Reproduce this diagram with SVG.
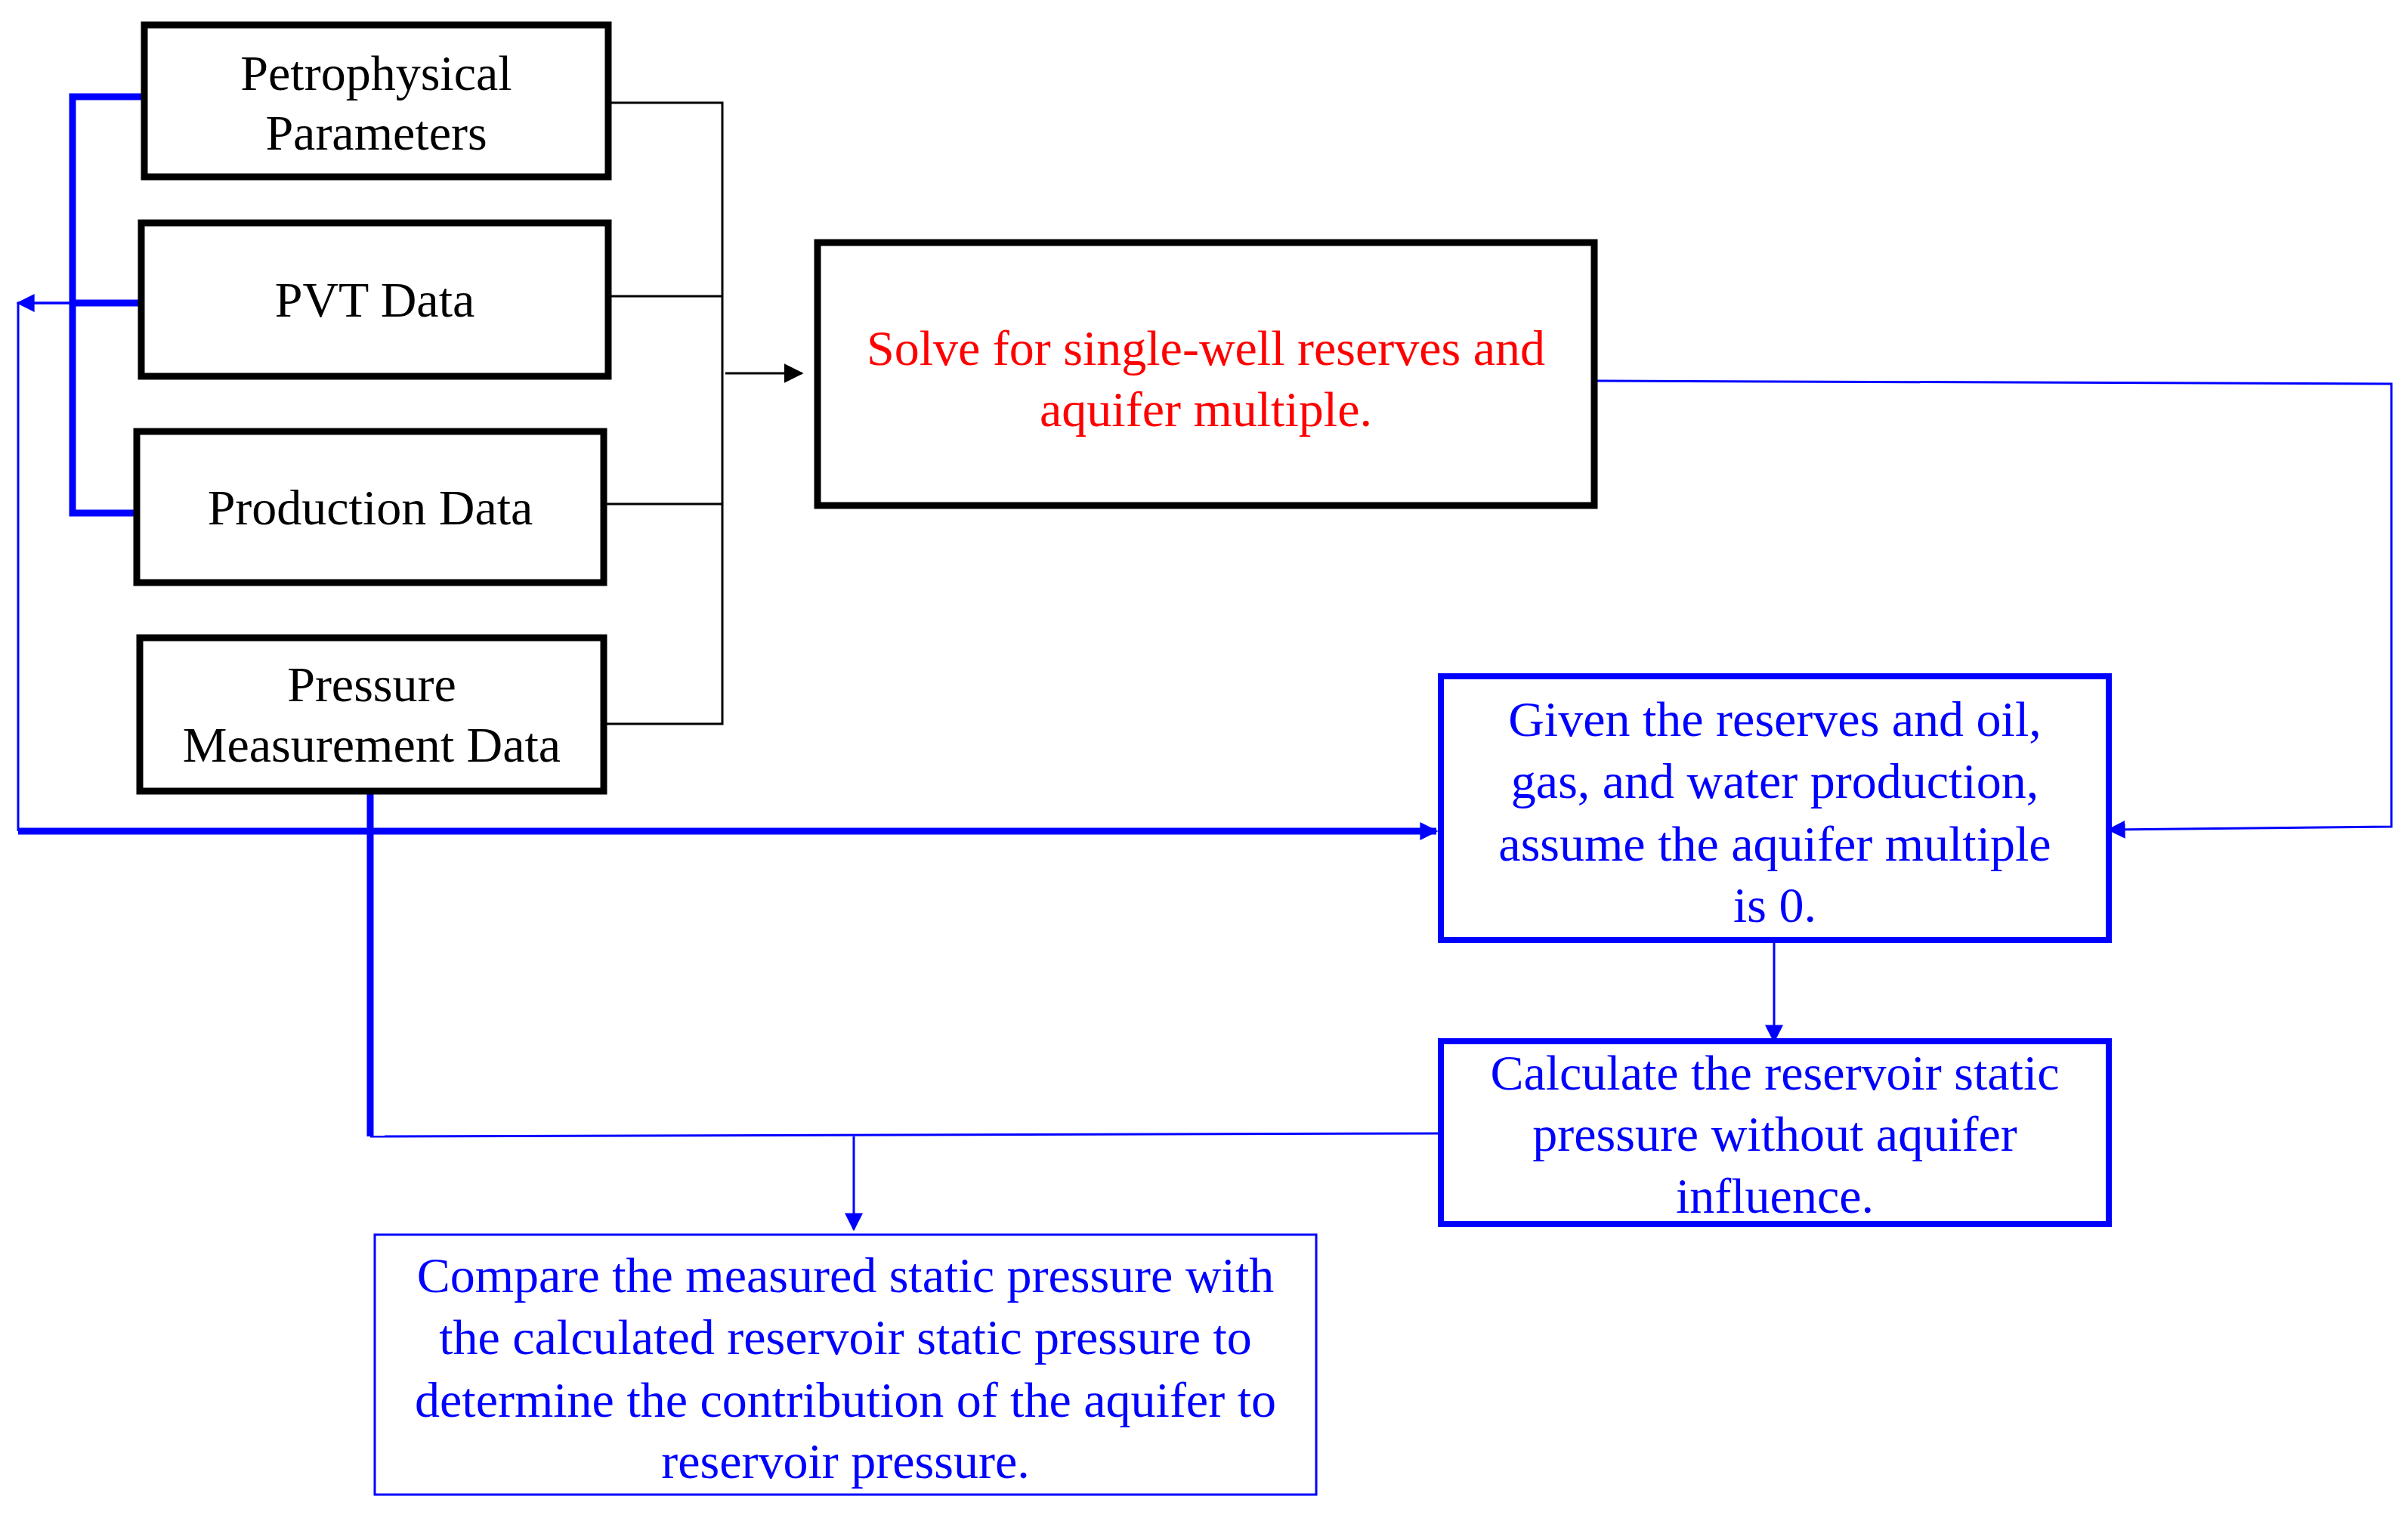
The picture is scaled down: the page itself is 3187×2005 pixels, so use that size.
<svg xmlns="http://www.w3.org/2000/svg" width="3187" height="2005" viewBox="0 0 3187 2005">
<style>
text{font-family:"Liberation Serif","Times New Roman",serif;font-size:66px;text-anchor:middle;dominant-baseline:central}
.bk{fill:#fff;stroke:#000;stroke-width:9}
.bb{fill:#fff;stroke:#0000ff;stroke-width:8}
.bt{fill:#fff;stroke:#0000ff;stroke-width:3}
.k{fill:#000}.r{fill:#ff0000}.b{fill:#0000ff}
.lk{fill:none;stroke:#000;stroke-width:3}
.lb{fill:none;stroke:#0000ff;stroke-width:3}
.lB{fill:none;stroke:#0000ff;stroke-width:9}
</style>
<defs>
<marker id="ak" markerWidth="10" markerHeight="10" refX="9" refY="5" orient="auto" markerUnits="userSpaceOnUse" viewBox="0 0 10 10"><path d="M0,0L10,5L0,10z" fill="#000"/></marker>
<marker id="ab" viewBox="0 0 10 10" refX="9" refY="5" markerWidth="24" markerHeight="24" orient="auto" markerUnits="userSpaceOnUse"><path d="M0,0L10,5L0,10z" fill="#0000ff"/></marker>
<marker id="ak2" viewBox="0 0 10 10" refX="9" refY="5" markerWidth="26" markerHeight="26" orient="auto" markerUnits="userSpaceOnUse"><path d="M0,0L10,5L0,10z" fill="#000"/></marker>
</defs>
<g id="connectors">
<path class="lk" d="M805,136H956V958H799M805,392H956M799,667H956"/>
<path class="lk" d="M960,494H1061" marker-end="url(#ak2)"/>
<path class="lb" d="M2114,504L3165,508V1094L2791,1098" marker-end="url(#ab)"/>
<path class="lb" d="M2348,1244V1378" marker-end="url(#ab)"/>
<path class="lb" d="M1907,1500L490,1504"/>
<path class="lb" d="M1130,1504V1627" marker-end="url(#ab)"/>
<path class="lB" d="M490,1047V1504"/>
<path class="lB" d="M24,1100H1901" marker-end="url(#ab)"/>
<path class="lb" d="M24,1100V401H187" />
<path class="lb" d="M96,401H24" marker-end="url(#ab)"/>
<path class="lB" d="M191,128H96V679H181M96,401H187"/>
</g>
<g id="n1"><rect class="bk" x="191" y="33" width="614" height="201"/><text class="k" x="498" y="96">Petrophysical</text><text class="k" x="498" y="175">Parameters</text></g>
<g id="n2"><rect class="bk" x="187" y="295" width="618" height="203"/><text class="k" x="496" y="396">PVT Data</text></g>
<g id="n3"><rect class="bk" x="181" y="571" width="618" height="200"/><text class="k" x="490" y="671">Production Data</text></g>
<g id="n4"><rect class="bk" x="185" y="844" width="614" height="203"/><text class="k" x="492" y="905">Pressure</text><text class="k" x="492" y="985">Measurement Data</text></g>
<g id="n5"><rect class="bk" x="1082" y="321" width="1028" height="348"/><text class="r" x="1596" y="460">Solve for single-well  reserves and</text><text class="r" x="1596" y="541">aquifer multiple.</text></g>
<g id="n6"><rect class="bb" x="1907" y="895" width="884" height="349"/><text class="b" x="2349" y="951">Given the reserves and oil,</text><text class="b" x="2349" y="1033">gas, and water production,</text><text class="b" x="2349" y="1116">assume the aquifer multiple</text><text class="b" x="2349" y="1197">is 0.</text></g>
<g id="n7"><rect class="bb" x="1907" y="1378" width="884" height="242"/><text class="b" x="2349" y="1419">Calculate the reservoir static</text><text class="b" x="2349" y="1500">pressure without aquifer</text><text class="b" x="2349" y="1582">influence.</text></g>
<g id="n8"><rect class="bt" x="496" y="1634" width="1246" height="344"/><text class="b" x="1119" y="1687">Compare the measured static pressure with</text><text class="b" x="1119" y="1769">the calculated reservoir static pressure to</text><text class="b" x="1119" y="1852">determine the contribution of the aquifer to</text><text class="b" x="1119" y="1933">reservoir pressure.</text></g>
</svg>
